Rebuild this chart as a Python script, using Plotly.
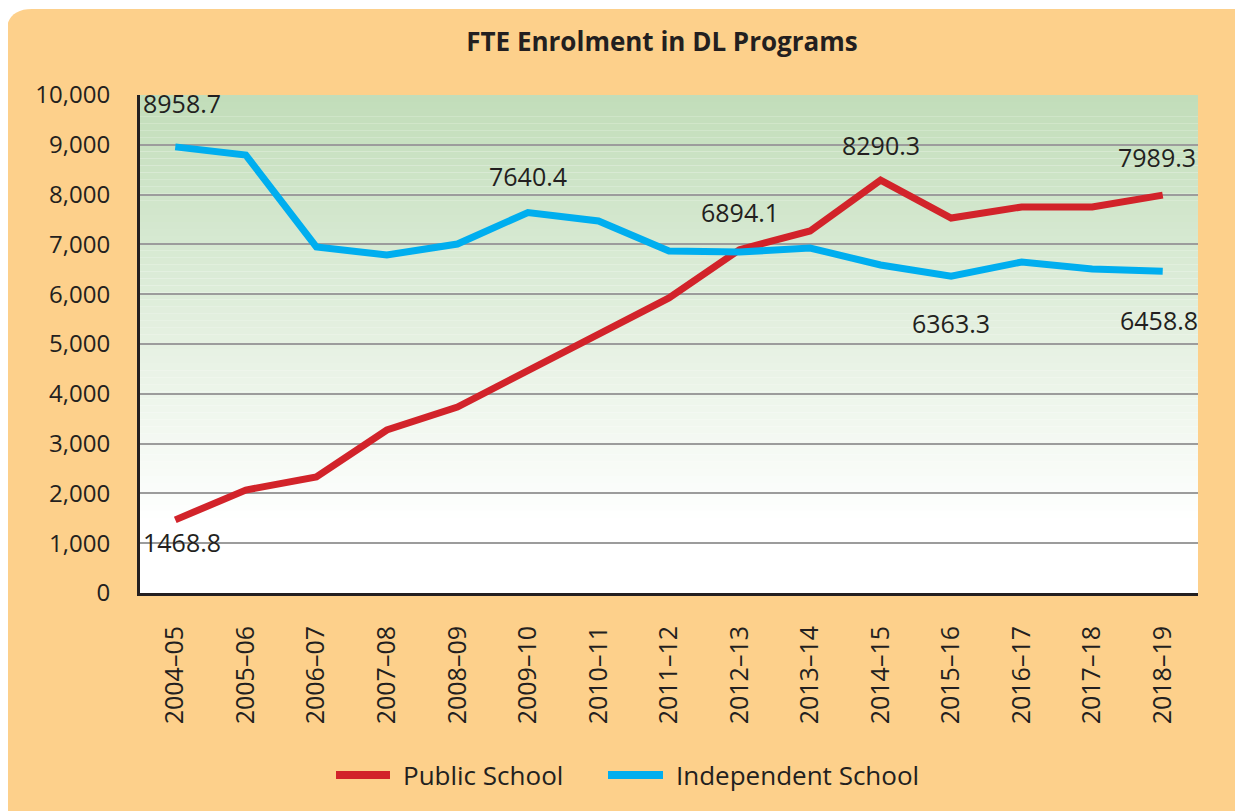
import plotly.graph_objects as go

years = ["2004–05", "2005–06", "2006–07", "2007–08", "2008–09", "2009–10", "2010–11",
         "2011–12", "2012–13", "2013–14", "2014–15", "2015–16", "2016–17", "2017–18", "2018–19"]
public_school = [1468.8, 2068, 2329, 3273, 3735, 4470, 5200, 5924, 6894.1, 7269,
                 8290.3, 7530, 7751, 7751, 7989.3]
independent_school = [8958.7, 8795, 6948, 6787, 7008, 7640.4, 7470, 6867, 6847, 6928,
                      6586, 6363.3, 6646, 6506, 6458.8]

RED = "#D2232A"
BLUE = "#00AEEF"
ORANGE = "#FDD08B"
INK = "#231F20"
FONT = "Open Sans"

# page puts the figure 8px in from the window edge
OFF = 8
W, H = 1235, 803
L, T = 140 - OFF, 95 - OFF
R, B = W - (1198 - OFF), H - (593 - OFF)
PW, PH = W - L - R, H - T - B


def px(x):
    # screen pixel -> paper x
    return (x - OFF - L) / PW


def py(y):
    # screen pixel -> paper y
    return (H - B - (y - OFF)) / PH


fig = go.Figure()
fig.add_trace(go.Scatter(x=years, y=public_school, mode="lines", name="Public School",
                         line=dict(color=RED, width=7)))
fig.add_trace(go.Scatter(x=years, y=independent_school, mode="lines", name="Independent School",
                         line=dict(color=BLUE, width=7)))

shapes = []
# rounded orange card
r = 26
x0, y0, x1, y1 = px(6), py(9), px(1280), py(850)
path = (f"M {px(6 + r)},{y0} L {x1},{y0} L {x1},{y1} L {x0},{y1} L {x0},{py(9 + r)} "
        f"Q {x0},{y0} {px(6 + r)},{y0} Z")
shapes.append(dict(type="path", path=path, xref="paper", yref="paper",
                   fillcolor=ORANGE, line=dict(width=0), layer="below"))
# plot area: white base, then green fading bands
shapes.append(dict(type="rect", xref="paper", yref="paper", x0=0, x1=1, y0=0, y1=1,
                   fillcolor="white", line=dict(width=0), layer="below"))
top_c = (193, 221, 185)
n = 60
lo, hi = 1500, 10000
for i in range(n):
    a = lo + (hi - lo) * i / n
    b = lo + (hi - lo) * (i + 1) / n
    t = ((a + b) / 2 - lo) / (hi - lo)
    c = tuple(round(255 + (tc - 255) * t) for tc in top_c)
    shapes.append(dict(type="rect", xref="paper", yref="y", x0=0, x1=1, y0=a, y1=b,
                       fillcolor=f"rgb{c}", line=dict(width=0), layer="below"))

# manual legend
leg_y = py(775)
shapes.append(dict(type="line", xref="paper", yref="paper", x0=px(336), x1=px(390),
                   y0=leg_y, y1=leg_y, line=dict(color=RED, width=8)))
shapes.append(dict(type="line", xref="paper", yref="paper", x0=px(608), x1=px(663),
                   y0=leg_y, y1=leg_y, line=dict(color=BLUE, width=8)))

annotations = [
    dict(text="Public School", x=px(401), y=leg_y, xref="paper", yref="paper",
         xanchor="left", yanchor="middle", showarrow=False, font=dict(size=26)),
    dict(text="Independent School", x=px(674), y=leg_y, xref="paper", yref="paper",
         xanchor="left", yanchor="middle", showarrow=False, font=dict(size=26)),
]


def label(i, series, shift, anchor="center", x=None, xshift=0):
    return dict(text=f"{series[i]:.1f}", x=years[i] if x is None else x, y=series[i],
                xref="x", yref="y", yshift=shift, xshift=xshift, xanchor=anchor,
                yanchor="middle", showarrow=False, font=dict(size=25))


annotations += [
    label(0, independent_school, 44, "left", x=-0.5, xshift=1),
    label(0, public_school, -22, "left", x=-0.5, xshift=1),
    label(5, independent_school, 37),
    label(8, public_school, 38),
    label(10, public_school, 35),
    label(14, public_school, 38, "right", x=14.5),
    label(11, independent_school, -47),
    label(14, independent_school, -49, "right", x=14.5, xshift=2),
]

fig.update_layout(
    width=W, height=H,
    margin=dict(l=L, r=R, t=T, b=B),
    paper_bgcolor="white",
    plot_bgcolor="white",
    font=dict(family=FONT, color=INK, size=24),
    title=dict(text="<b>FTE Enrolment in DL Programs</b>", xref="container",
               x=(662 - OFF) / W, xanchor="center",
               yref="container", y=1 - (42 - OFF) / H, yanchor="middle",
               font=dict(size=26, color=INK)),
    showlegend=False,
    shapes=shapes,
    annotations=annotations,
)
fig.update_xaxes(
    type="category", range=[-0.5, 14.5], tickangle=-90, showgrid=False,
    showline=True, linecolor=INK, linewidth=3, ticks="", ticklabelstandoff=20,
    tickfont=dict(size=25),
)
fig.update_yaxes(
    range=[0, 10000], tickvals=list(range(0, 10001, 1000)), tickformat=",",
    showgrid=True, gridcolor="#9C9C9C", gridwidth=1.5, zeroline=False,
    showline=True, linecolor=INK, linewidth=3, ticks="", ticklabelstandoff=22,
    tickfont=dict(size=24),
)

fig.write_html("out.html")
